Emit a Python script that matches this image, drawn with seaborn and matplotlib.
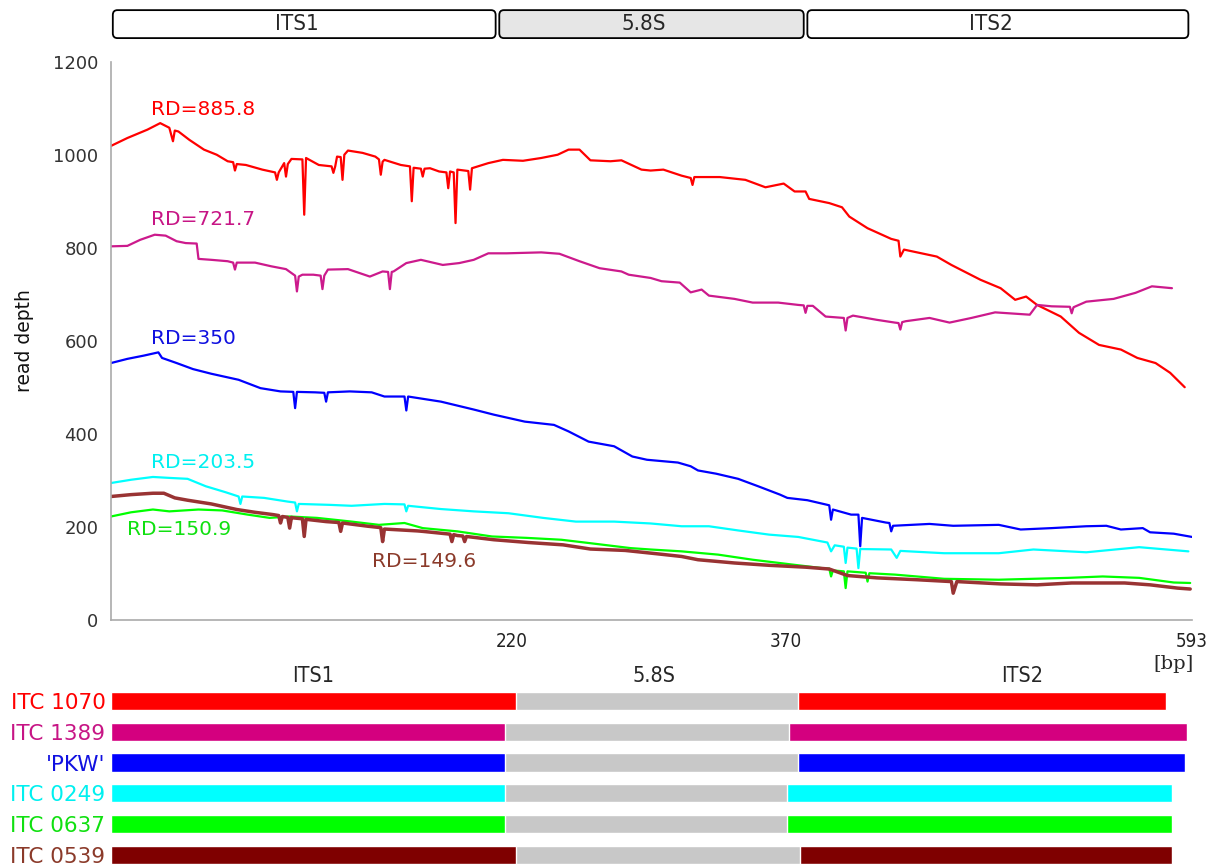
import numpy as np
import pandas as pd
import matplotlib
matplotlib.use("Agg")
import matplotlib.pyplot as plt
from matplotlib.patches import FancyBboxPatch
import seaborn as sns

# -----------------------------
# data
# -----------------------------
samples = ["ITC 1070", "ITC 1389", "'PKW'", "ITC 0249", "ITC 0637", "ITC 0539"]
rd_labels = ["RD=885.8", "RD=721.7", "RD=350", "RD=203.5", "RD=150.9", "RD=149.6"]

red_bp = [0, 9, 20, 27, 32, 34, 35, 37, 43, 51, 58, 64, 67, 68, 69, 74, 83, 90, 91, 92, 95, 96, 97, 99,
          105, 106, 107, 114, 121, 122, 123, 124, 126, 127, 128, 130, 138, 145, 147, 148, 149, 150,
          159, 164, 165, 166, 170, 171, 172, 175, 180, 184, 185, 186, 188, 189, 190, 196, 197, 198,
          207, 215, 226, 236, 245, 251, 257, 263, 274, 280, 291, 296, 303, 313, 318, 319, 320, 334,
          348, 359, 369, 375, 381, 383, 394, 401, 405, 415, 428, 432, 433, 435, 453, 461, 477, 488,
          496, 502, 508, 521, 531, 542, 554, 563, 573, 581, 589]
red_rd = [1019, 1036, 1054, 1068, 1058, 1029, 1052, 1050, 1032, 1011, 1000, 986, 984, 966, 980, 978, 968,
          962, 946, 962, 982, 953, 980, 991, 990, 871, 993, 978, 975, 961, 975, 996, 995, 946, 1000, 1009,
          1004, 996, 990, 957, 985, 989, 978, 975, 900, 972, 970, 953, 970, 971, 964, 962, 928, 964, 962,
          853, 968, 965, 925, 971, 982, 989, 987, 993, 1000, 1011, 1011, 988, 986, 988, 968, 966, 968,
          955, 950, 935, 952, 952, 946, 930, 938, 921, 921, 905, 896, 887, 867, 842, 819, 815, 781, 796,
          781, 763, 731, 713, 688, 695, 677, 652, 617, 591, 581, 563, 552, 531, 500]

mag_bp = [0, 9, 16, 24, 30, 36, 41, 47, 48, 55, 64, 67, 68, 69, 79, 88, 96, 101, 102, 103, 105, 111, 115,
          116, 117, 119, 130, 142, 149, 152, 153, 154, 155, 162, 170, 182, 191, 199, 207, 217, 236, 246,
          257, 268, 280, 284, 296, 302, 312, 318, 324, 328, 342, 352, 366, 377, 380, 381, 382, 385, 392,
          402, 403, 404, 407, 420, 430, 432, 433, 434, 436, 449, 460, 472, 485, 504, 508, 516, 526, 527,
          528, 535, 550, 562, 571, 582]
mag_rd = [803, 804, 817, 828, 826, 814, 810, 809, 776, 774, 771, 768, 753, 768, 768, 760, 754, 740, 706,
          738, 742, 742, 740, 711, 740, 753, 754, 738, 749, 748, 711, 748, 749, 767, 774, 763, 767, 774,
          788, 788, 790, 787, 771, 756, 749, 742, 735, 728, 725, 704, 710, 697, 690, 682, 682, 677, 676,
          660, 675, 675, 652, 649, 622, 649, 654, 645, 639, 638, 624, 640, 642, 649, 639, 649, 661, 656,
          677, 674, 673, 659, 672, 684, 690, 703, 717, 713]

blue_bp = [0, 9, 18, 26, 28, 36, 45, 55, 70, 82, 93, 100, 101, 102, 112, 117, 118, 119, 131, 143, 150,
           161, 162, 163, 181, 199, 210, 227, 243, 251, 262, 276, 286, 294, 311, 318, 322, 332, 344, 355,
           367, 371, 382, 393, 394, 395, 396, 406, 410, 411, 412, 425, 427, 428, 429, 449, 462, 487, 499,
           516, 535, 546, 554, 566, 570, 583, 593]
blue_rd = [552, 561, 568, 575, 563, 552, 539, 529, 516, 498, 491, 490, 455, 490, 489, 488, 469, 489, 491,
           489, 480, 480, 450, 480, 469, 452, 441, 426, 419, 405, 383, 373, 351, 344, 338, 330, 321, 314,
           303, 287, 269, 262, 257, 247, 246, 215, 237, 226, 226, 158, 219, 209, 208, 190, 202, 206, 202,
           204, 194, 197, 201, 202, 194, 197, 188, 185, 178]

cyan_bp = [0, 11, 23, 32, 42, 52, 63, 70, 71, 72, 84, 97, 101, 102, 103, 120, 132, 150, 161, 162, 163,
           181, 199, 218, 237, 255, 276, 296, 313, 328, 344, 361, 377, 393, 395, 397, 402, 403, 404, 409,
           410, 411, 428, 431, 433, 457, 487, 506, 535, 564, 591]
cyan_rd = [294, 301, 307, 305, 303, 287, 274, 265, 249, 265, 262, 254, 252, 233, 249, 247, 245, 249, 248,
           233, 245, 238, 233, 229, 219, 211, 211, 207, 201, 201, 192, 183, 178, 166, 147, 160, 157, 122,
           155, 153, 111, 152, 151, 133, 148, 143, 143, 151, 145, 156, 147]

green_bp = [0, 11, 23, 32, 48, 61, 75, 87, 98, 113, 132, 147, 161, 171, 190, 209, 228, 247, 262, 285, 296,
            313, 333, 352, 375, 390, 394, 395, 396, 402, 403, 404, 414, 415, 416, 430, 457, 487, 525, 544,
            564, 583, 592]
green_rd = [222, 231, 237, 233, 237, 235, 226, 219, 222, 219, 211, 204, 208, 197, 190, 179, 176, 172, 165,
            154, 151, 147, 140, 129, 118, 111, 110, 93, 106, 104, 68, 104, 101, 82, 100, 97, 88, 86, 90, 93,
            90, 80, 79]

brown_bp = [0, 11, 23, 29, 35, 42, 55, 69, 79, 89, 92, 93, 94, 97, 98, 99, 100, 105, 106, 107, 109, 118,
            125, 126, 127, 141, 148, 149, 150, 168, 171, 186, 187, 188, 190, 193, 194, 195, 210, 229, 248,
            263, 282, 299, 313, 322, 342, 361, 381, 394, 404, 420, 442, 461, 462, 464, 488, 508, 527, 556,
            570, 585, 592]
brown_rd = [265, 269, 272, 272, 262, 257, 249, 237, 231, 226, 224, 208, 222, 220, 197, 220, 219, 217, 179,
            216, 215, 211, 209, 190, 208, 201, 198, 168, 195, 191, 190, 184, 168, 183, 181, 180, 168, 179,
            172, 166, 161, 152, 149, 142, 136, 129, 122, 117, 113, 109, 95, 90, 86, 82, 57, 82, 77, 75, 79,
            79, 75, 68, 66]

# region ends per sample in the lower panel [bp]
its1_end = [222, 216, 216, 216, 216, 222]
s58_end = [377, 372, 377, 371, 371, 378]
its2_end = [579, 590, 589, 582, 582, 582]

# reference regions on top
region_names = ["ITS1", "5.8S", "ITS2"]
region_start = [1, 213, 382]
region_end = [211, 380, 591]

x_ticks = [220, 370, 593]
y_ticks = [0, 200, 400, 600, 800, 1000, 1200]

line_colors = ["#ff0000", "#cc1a8c", "#0000ff", "#00ffff", "#00ff00", "#993333"]
bar_colors = ["#ff0000", "#d4007f", "#0000ff", "#00ffff", "#00ff00", "#7f0000"]
label_colors = ["#ff0000", "#c71585", "#1010e0", "#00f0f0", "#10e010", "#8b3a2a"]

series = [(red_bp, red_rd), (mag_bp, mag_rd), (blue_bp, blue_rd),
          (cyan_bp, cyan_rd), (green_bp, green_rd), (brown_bp, brown_rd)]

# -----------------------------
# style
# -----------------------------
sns.set_style("white")
plt.rcParams["font.family"] = ["DejaVu Sans"]
cond = dict(family="DejaVu Sans", stretch="condensed")

fig = plt.figure(figsize=(12.13, 8.66), dpi=100)

# -----------------------------
# main read depth plot
# -----------------------------
ax = fig.add_axes([0.0915, 0.2844, 0.8912, 0.6443])
widths = [1.6, 1.6, 1.6, 1.6, 1.6, 2.5]
for (bp, rd), col, lw in zip(series, line_colors, widths):
    d = pd.DataFrame({"bp": bp, "depth": rd})
    sns.lineplot(data=d, x="bp", y="depth", color=col, lw=lw, estimator=None,
                 sort=False, ax=ax, legend=False)

ax.set_xlim(0, 593)
ax.set_ylim(0, 1200)
ax.set_xticks(x_ticks)
ax.set_yticks(y_ticks)
ax.set_xticklabels([str(t) for t in x_ticks], fontsize=13.5, color="#222222", **cond)
ax.set_yticklabels([str(t) for t in y_ticks], fontsize=13, color="#333333")
ax.tick_params(axis="both", length=6, width=1, color="#aaaaaa", direction="out", pad=3)
for s in ["top", "right"]:
    ax.spines[s].set_visible(False)
for s in ["left", "bottom"]:
    ax.spines[s].set_color("#aaaaaa")
    ax.spines[s].set_linewidth(1.2)
ax.set_xlabel("")
ax.set_ylabel("read depth", fontsize=13.5, color="#111111", labelpad=14)

rd_pos = [(22, 1097), (22, 860), (22, 604), (22, 338), (9, 194), (143, 125)]
for txt, (x, y), col in zip(rd_labels, rd_pos, label_colors):
    ax.text(x, y, txt, color=col, fontsize=14.5, ha="left", va="center")

ax.text(594, -95, "[bp]", family="DejaVu Serif", fontsize=14, ha="right", va="center",
        clip_on=False)

# -----------------------------
# region boxes on top
# -----------------------------
ax_top = fig.add_axes([0.0915, 0.956, 0.8912, 0.0323])
ax_top.set_xlim(0, 593)
ax_top.set_ylim(0, 1)
ax_top.axis("off")
for name, a, b in zip(region_names, region_start, region_end):
    face = "#e6e6e6" if name == "5.8S" else "white"
    box = FancyBboxPatch((a, 0), b - a, 1, boxstyle="round,pad=0,rounding_size=2.5",
                         mutation_aspect=0.07, facecolor=face, edgecolor="black",
                         lw=1.3, clip_on=False)
    ax_top.add_patch(box)
    ax_top.text((a + b) / 2 - 4, 0.5, name, fontsize=16, ha="center", va="center", **cond)

# -----------------------------
# region layout per sample
# -----------------------------
ax_b = fig.add_axes([0.0915, 0.0, 0.8912, 0.2083])
dfb = pd.DataFrame({"sample": samples, "its1": its1_end, "s58": s58_end, "its2": its2_end})
pal = dict(zip(samples, bar_colors))
sns.barplot(data=dfb, y="sample", x="its2", hue="sample", palette=pal, orient="h",
            width=0.6, legend=False, ax=ax_b, saturation=1)
sns.barplot(data=dfb, y="sample", x="s58", color="#c8c8c8", orient="h",
            width=0.6, ax=ax_b, saturation=1)
sns.barplot(data=dfb, y="sample", x="its1", hue="sample", palette=pal, orient="h",
            width=0.6, legend=False, ax=ax_b, saturation=1)
ax_b.set_xlim(0, 593)
ax_b.set_ylim(5.365, -0.5)
ax_b.set_xlabel("")
ax_b.set_ylabel("")
ax_b.set_xticks([])
sns.despine(ax=ax_b, left=True, bottom=True)
ax_b.tick_params(axis="y", length=0, pad=4)
for lab, col in zip(ax_b.get_yticklabels(), label_colors):
    lab.set_color(col)
    lab.set_fontsize(15.5)

for name, x in zip(region_names, [111, 298, 500]):
    ax_b.text(x, -0.82, name, fontsize=15.5, ha="center", va="center", clip_on=False, **cond)

fig.savefig("out.png", dpi=100)
